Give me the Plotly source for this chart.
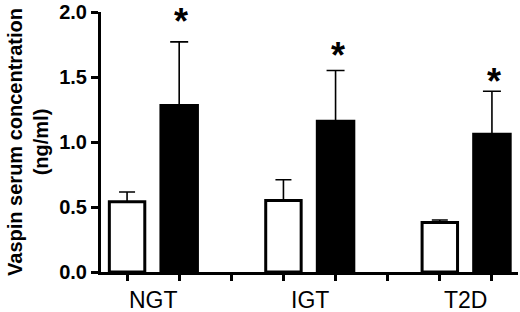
import plotly.graph_objects as go

groups = ["NGT", "IGT", "T2D"]
white_vals = [0.54, 0.55, 0.38]
white_err = [0.075, 0.16, 0.02]
black_vals = [1.28, 1.16, 1.06]
black_err = [0.49, 0.39, 0.33]
star_y = [1.97, 1.715, 1.515]
y_ticks = [0.0, 0.5, 1.0, 1.5, 2.0]

white_x = [3 * i for i in range(len(groups))]
black_x = [3 * i + 1 for i in range(len(groups))]

fig = go.Figure()
fig.add_trace(go.Bar(
    x=white_x, y=white_vals, width=0.68,
    marker=dict(color="white", line=dict(color="black", width=3)),
    error_y=dict(type="data", array=white_err, arrayminus=[0] * 3, symmetric=False,
                 color="black", thickness=1.6, width=8),
))
fig.add_trace(go.Bar(
    x=black_x, y=black_vals, width=0.7,
    marker=dict(color="black", line=dict(color="black", width=3)),
    error_y=dict(type="data", array=black_err, arrayminus=[0] * 3, symmetric=False,
                 color="black", thickness=1.6, width=9),
))

# significance stars
for xi, sy in zip(black_x, star_y):
    fig.add_annotation(x=xi, y=sy, text="<b>*</b>", showarrow=False,
                       yanchor="middle", yshift=-6, xshift=2,
                       font=dict(size=36, color="black", family="Liberation Sans"))

# group labels under the axis
for i, g in enumerate(groups):
    fig.add_annotation(x=3 * i + 0.5, y=0, yref="y", text=g, showarrow=False,
                       yanchor="top", yshift=-13,
                       font=dict(size=23, color="black", family="Liberation Sans"))

fig.update_xaxes(range=[-0.5, 7.5], tickvals=list(range(8)), ticktext=[""] * 8,
                 ticks="outside", ticklen=6, tickwidth=3, tickcolor="black",
                 showline=True, linecolor="black", linewidth=3,
                 showgrid=False, zeroline=False)
fig.update_yaxes(range=[0, 2.0], tickvals=y_ticks, ticktext=["<b>%.1f</b>" % t for t in y_ticks],
                 ticks="outside", ticklen=7, tickwidth=3, tickcolor="black",
                 showline=True, linecolor="black", linewidth=3,
                 showgrid=False, zeroline=False,
                 tickfont=dict(size=20, color="black", family="Liberation Sans"),
                 title=dict(text="<b>Vaspin serum concentration<br>(ng/ml)</b>", standoff=6,
                            font=dict(size=20, color="black", family="Liberation Sans")))

fig.update_layout(width=520, height=312, barmode="overlay", showlegend=False,
                  plot_bgcolor="white", paper_bgcolor="white",
                  margin=dict(l=101, r=2, t=12, b=40))

# page body has a default 8px margin; drop it so the figure sits at 0,0
fig.write_html("out.html", config={"displayModeBar": False},
               post_script="document.body.style.margin='0px';")
